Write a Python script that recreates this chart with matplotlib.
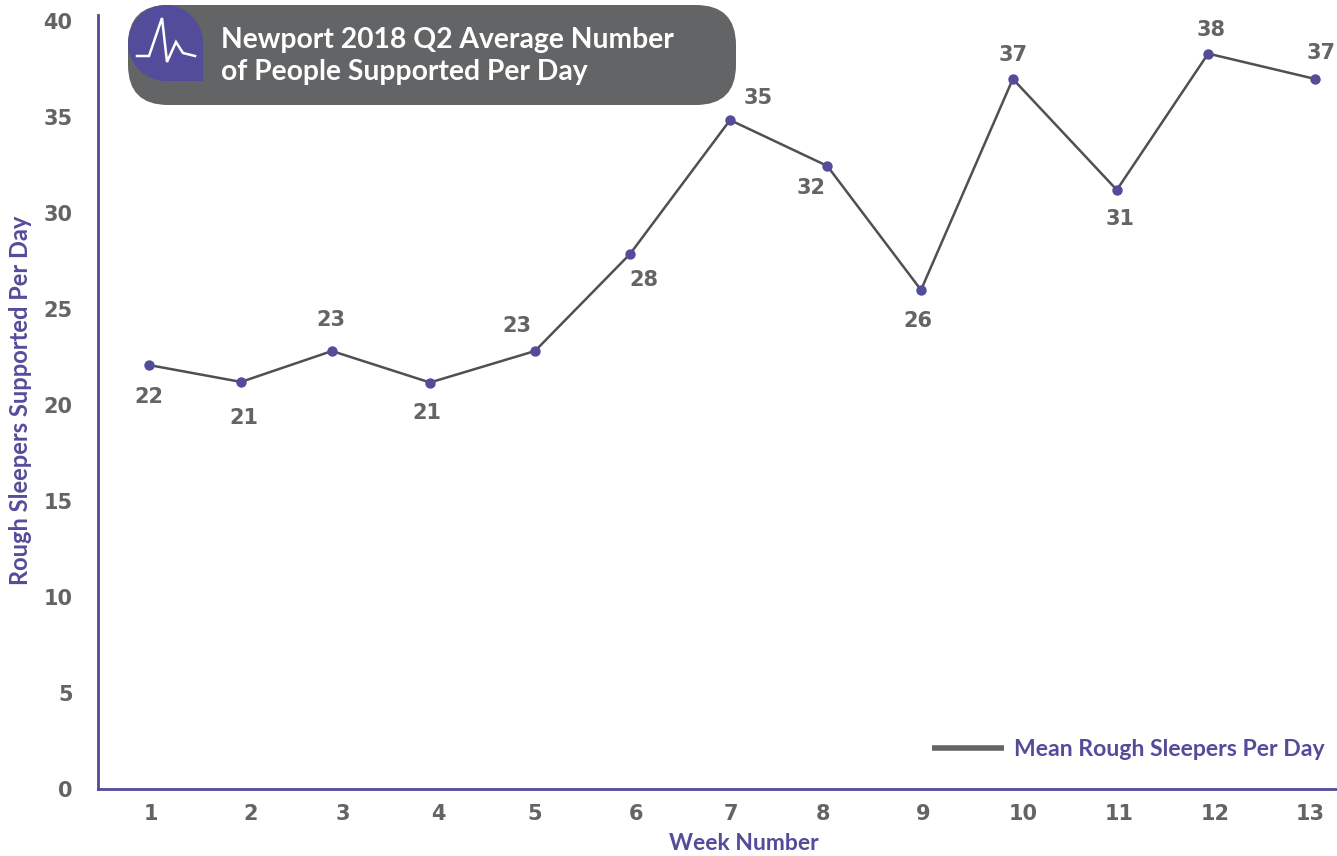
import matplotlib
matplotlib.use('Agg')
import matplotlib.pyplot as plt
from matplotlib.patches import FancyBboxPatch, PathPatch
from matplotlib.path import Path

# Values. The source chart has unevenly spaced weeks,
# so the x positions are fractional week numbers
point_weeks = [1.0, 1.947, 2.883, 3.892, 4.972, 5.95, 6.98, 7.98, 8.945, 9.89, 10.96, 11.9, 13.0]
rough_sleepers = [22.08, 21.2, 22.81, 21.17, 22.81, 27.86, 34.84, 32.45, 25.99, 36.98, 31.2, 38.3, 36.98]
point_labels = ['22', '21', '23', '21', '23', '28', '35', '32', '26', '37', '31', '38', '37']
tick_weeks = [1.02, 2.05, 2.997, 3.98, 4.97, 6.01, 6.99, 7.94, 8.97, 10.0, 10.98, 11.97, 12.95]
tick_labels = ['1', '2', '3', '4', '5', '6', '7', '8', '9', '10', '11', '12', '13']
y_ticks = [0, 5, 10, 15, 20, 25, 30, 35, 40]

# Label offset from each point, in points
label_offsets = [(0, -23), (2, -26), (-1, 22), (-2, -22), (-13, 18), (10, -19), (20, 16), (-12, -16),
                 (-2, -22), (0, 17), (2, -21), (2, 17), (4, 19)]

PURPLE = '#524c9a'
GREY = '#636466'
LINE_GREY = '#505052'
W, H = 1337, 856

plt.rcParams['font.family'] = ['Lato', 'DejaVu Sans']

fig = plt.figure(figsize=(W / 100, H / 100), dpi=100)
ax = fig.add_axes([97.5 / W, (H - 789) / H, (W - 97.5) / W, (789 - 15) / H])

ax.plot(point_weeks, rough_sleepers, color=LINE_GREY, linewidth=1.8, zorder=2)
ax.scatter(point_weeks, rough_sleepers, color=PURPLE, s=56, linewidths=0, zorder=3, clip_on=False)

# the digits in the source have footed 1s, DejaVu bold is the nearest
for x, y, text, offset in zip(point_weeks, rough_sleepers, point_labels, label_offsets):
    ax.annotate(text, (x, y), xytext=offset, textcoords='offset points', ha='center', va='center',
                fontsize=15, fontweight='bold', color=GREY, family='DejaVu Sans')

ax.set_xlim(0.47, 13.226)
ax.set_ylim(0, 40.31)
ax.set_xticks(tick_weeks)
ax.set_xticklabels(tick_labels)
ax.set_yticks(y_ticks)
ax.tick_params(axis='both', length=0, labelsize=15, labelcolor=GREY)
ax.tick_params(axis='x', pad=11)
ax.tick_params(axis='y', pad=18)
for label in ax.get_xticklabels() + ax.get_yticklabels():
    label.set_fontweight('bold')
    label.set_family('DejaVu Sans')

for side in ['top', 'right']:
    ax.spines[side].set_visible(False)
for side in ['left', 'bottom']:
    ax.spines[side].set_color(PURPLE)
    ax.spines[side].set_linewidth(2)

# Overlay in picture pixels for the axis titles, banner and legend
overlay = fig.add_axes([0, 0, 1, 1], zorder=5)
overlay.set_xlim(0, W)
overlay.set_ylim(H, 0)
overlay.axis('off')

overlay.text(744, 844, 'Week Number', fontsize=16.5, fontweight='bold', color=PURPLE,
             ha='center', va='center')
overlay.text(21, 400, 'Rough Sleepers Supported Per Day', fontsize=17, fontweight='bold', color=PURPLE,
             ha='center', va='center', rotation=90)

overlay.add_patch(FancyBboxPatch((168, 45), 528, 20, boxstyle='round,pad=40,rounding_size=40',
                                 facecolor=GREY, edgecolor='none'))

# purple teardrop behind the pulse icon, square at the lower right
drop = Path([(128, 43), (128, 22), (145, 5), (165.5, 5), (186, 5), (203, 22), (203, 43), (203, 81),
             (165.5, 81), (145, 81), (128, 64), (128, 43)],
            [Path.MOVETO, Path.CURVE4, Path.CURVE4, Path.CURVE4, Path.CURVE4, Path.CURVE4, Path.CURVE4,
             Path.LINETO, Path.LINETO, Path.CURVE4, Path.CURVE4, Path.CURVE4])
overlay.add_patch(PathPatch(drop, facecolor=PURPLE, edgecolor='none'))

overlay.plot([137, 149, 162, 167, 176, 183, 195], [56, 56, 18, 62, 42, 53, 56],
             color='white', linewidth=1.8, solid_joinstyle='miter')

overlay.text(221, 40, 'Newport 2018 Q2 Average Number', fontsize=20.3, fontweight='bold', color='white',
             ha='left', va='center')
overlay.text(221, 72, 'of People Supported Per Day', fontsize=20.3, fontweight='bold', color='white',
             ha='left', va='center')

overlay.plot([932, 1004], [748, 748], color=GREY, linewidth=4, solid_capstyle='butt')
overlay.text(1014, 749, 'Mean Rough Sleepers Per Day', fontsize=16.6, fontweight='bold', color=PURPLE,
             ha='left', va='center')

fig.savefig('out.png', dpi=100, facecolor='white')
